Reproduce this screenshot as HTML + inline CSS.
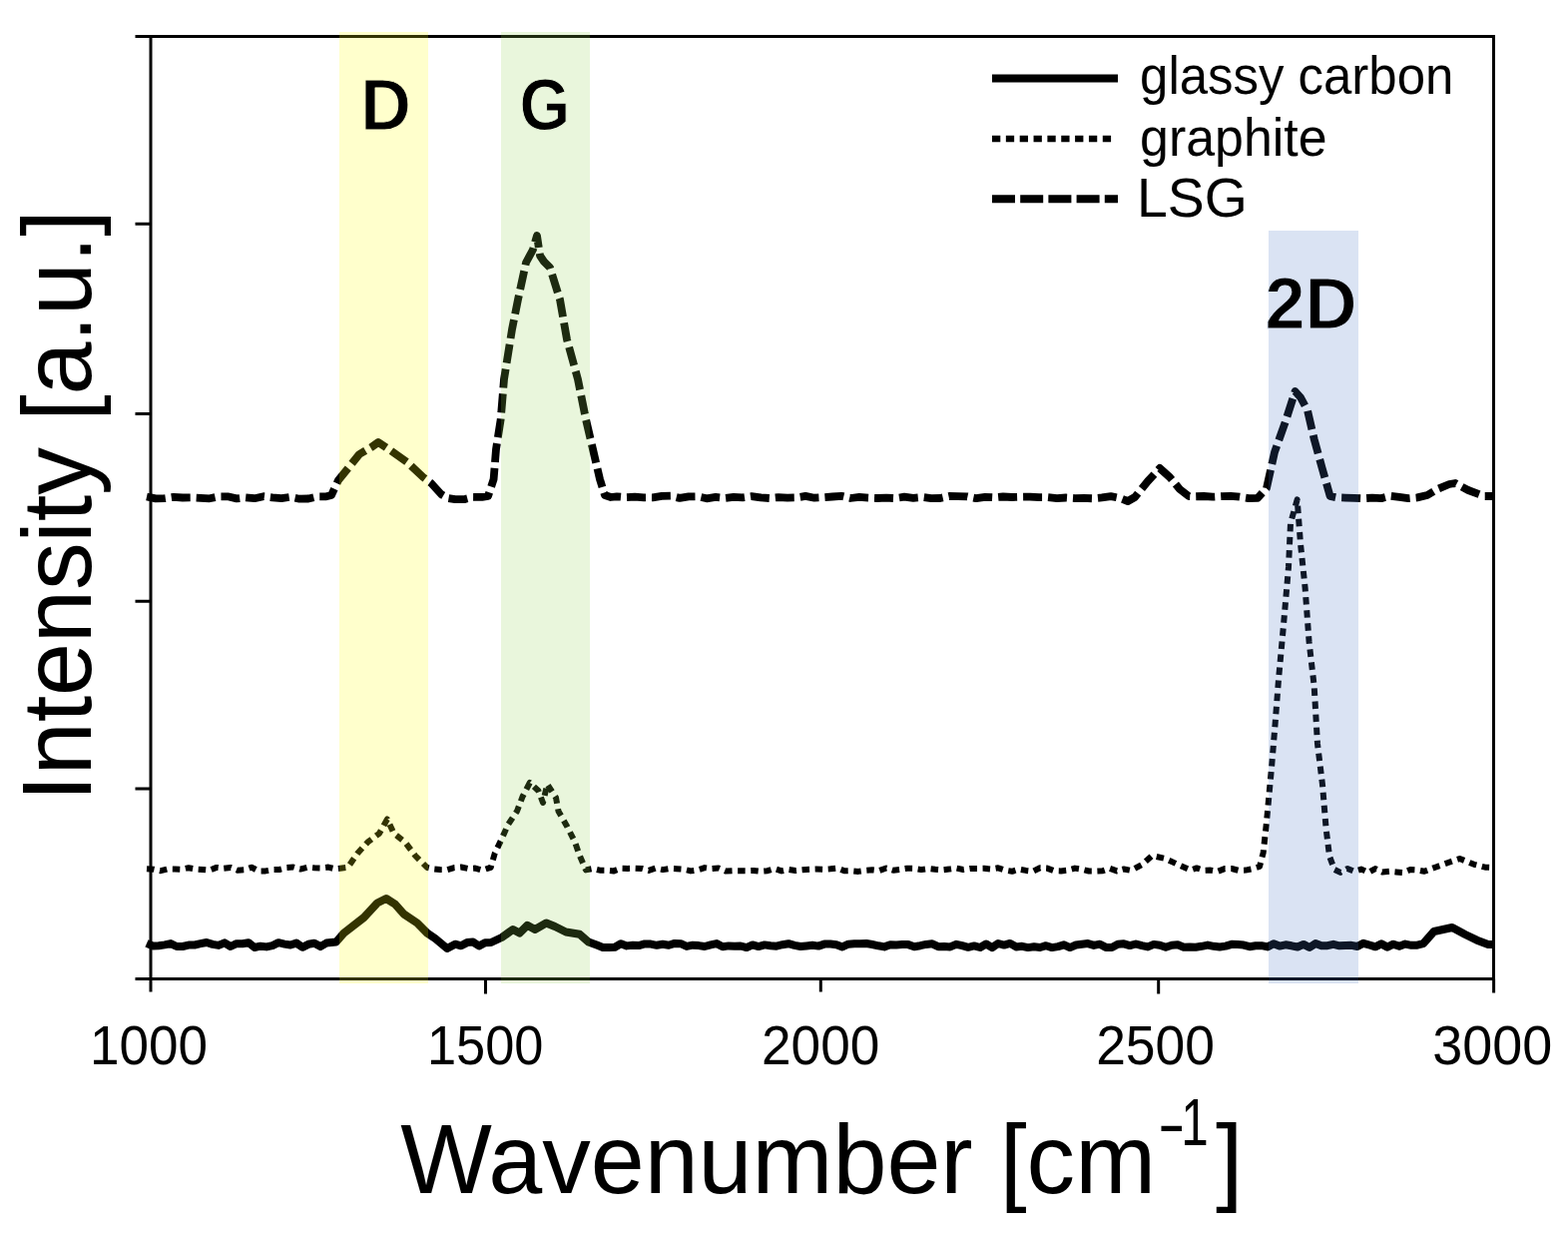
<!DOCTYPE html>
<html><head><meta charset="utf-8"><style>
html,body{margin:0;padding:0;background:#fff;}
body{width:1571px;height:1236px;overflow:hidden;}
svg{display:block;}
text{font-family:"Liberation Sans",Arial,sans-serif;fill:#000;}
</style></head><body>
<svg width="1571" height="1236" viewBox="0 0 1571 1236">
<rect x="0" y="0" width="1571" height="1236" fill="#fff"/>
<g fill="none" stroke="#000" stroke-linejoin="round">
<polyline points="147.0,944.8 153.0,947.4 159.0,947.2 165.0,946.4 171.0,945.1 177.0,948.0 183.0,948.0 189.0,946.6 195.0,946.5 201.0,945.2 207.0,944.0 213.0,945.9 219.0,946.9 225.0,944.3 231.0,948.0 237.0,945.2 243.0,945.2 249.0,944.2 255.0,949.0 261.0,947.7 267.0,948.4 273.0,947.1 279.0,944.2 285.0,945.6 291.0,946.5 297.0,944.6 303.0,948.8 309.0,945.8 315.0,944.8 321.0,948.1 327.0,944.6 336.8,943.5 344.5,934.6 364.6,919.0 378.0,904.5 386.9,900.0 395.8,905.6 404.7,915.6 418.0,924.5 428.0,934.6 436.0,940.0 448.0,950.0 456.0,945.7 462.0,947.3 468.0,944.1 474.0,943.6 480.0,947.5 486.0,944.2 492.0,944.0 502.7,939.0 513.9,931.0 520.5,934.6 528.3,926.8 536.0,931.0 547.3,924.5 556.0,928.0 567.0,933.5 580.7,935.7 589.6,943.5 598.5,946.8 604.0,948.9 610.0,949.0 616.0,948.7 622.0,945.2 628.0,947.4 634.0,946.7 640.0,947.1 646.0,945.4 652.0,945.6 658.0,946.8 664.0,945.8 670.0,946.8 676.0,944.9 682.0,945.2 688.0,947.9 694.0,946.7 700.0,947.1 706.0,948.0 712.0,946.4 718.0,945.1 724.0,948.2 730.0,947.4 736.0,947.7 742.0,947.5 748.0,949.1 754.0,946.4 760.0,948.1 766.0,946.4 772.0,947.3 778.0,947.7 784.0,946.2 790.0,945.2 796.0,946.9 802.0,948.0 808.0,947.4 814.0,946.8 820.0,947.6 826.0,945.6 832.0,945.6 838.0,946.2 844.0,948.4 850.0,945.7 856.0,945.3 862.0,945.2 868.0,945.0 874.0,946.0 880.0,947.3 886.0,948.4 892.0,946.3 898.0,946.4 904.0,946.1 910.0,946.1 916.0,948.2 922.0,947.2 928.0,945.9 934.0,945.3 940.0,948.2 946.0,947.9 952.0,948.4 958.0,945.8 964.0,947.2 970.0,948.8 976.0,947.4 982.0,949.0 988.0,945.5 994.0,949.1 1000.0,945.0 1006.0,946.6 1012.0,944.9 1018.0,948.4 1024.0,947.8 1030.0,949.1 1036.0,948.3 1042.0,949.0 1048.0,947.2 1054.0,949.1 1060.0,948.1 1066.0,946.3 1072.0,949.1 1078.0,946.5 1084.0,945.7 1090.0,945.1 1096.0,946.9 1102.0,945.7 1108.0,948.9 1114.0,949.0 1120.0,945.8 1126.0,945.3 1132.0,947.1 1138.0,945.5 1144.0,947.2 1150.0,948.4 1156.0,945.9 1162.0,946.7 1168.0,948.8 1174.0,946.8 1180.0,946.3 1186.0,948.7 1192.0,948.4 1198.0,948.7 1204.0,947.8 1210.0,946.6 1216.0,947.8 1222.0,948.5 1228.0,947.6 1234.0,945.8 1240.0,946.1 1246.0,946.6 1252.0,948.2 1258.0,947.3 1264.0,947.2 1270.0,948.4 1276.0,945.3 1282.0,947.6 1288.0,946.3 1294.0,947.3 1300.0,948.5 1306.0,945.9 1312.0,949.0 1318.0,945.1 1324.0,947.3 1330.0,947.2 1336.0,945.8 1342.0,947.3 1348.0,946.9 1354.0,946.8 1360.0,948.0 1366.0,944.8 1372.0,946.5 1378.0,948.3 1384.0,945.4 1390.0,948.6 1396.0,945.7 1402.0,947.8 1408.0,945.6 1414.0,946.8 1420.0,946.7 1426.0,945.2 1436.7,933.0 1455.0,929.0 1468.0,936.0 1479.7,941.7 1491.0,946.0 1497.0,946.0" stroke-width="8"/>
<polyline points="147.0,870.3 154.0,870.7 161.0,872.2 168.0,870.4 175.0,870.5 182.0,870.8 189.0,869.2 196.0,870.5 203.0,871.0 210.0,871.7 217.0,868.9 224.0,869.7 231.0,868.9 238.0,871.7 245.0,871.3 252.0,868.7 259.0,872.4 266.0,872.4 273.0,871.1 280.0,871.0 287.0,869.1 294.0,868.6 301.0,870.6 308.0,868.7 315.0,869.3 322.0,869.5 329.0,868.6 336.0,870.4 348.5,868.8 358.0,855.0 368.5,843.4 380.0,834.8 388.0,820.5 394.6,834.8 405.8,843.4 416.0,857.0 428.0,869.0 434.0,870.4 441.0,871.1 448.0,871.2 455.0,869.1 462.0,868.5 469.0,870.0 476.0,869.6 483.0,871.7 491.7,868.8 495.8,854.5 502.8,840.0 509.0,826.0 518.0,812.5 523.5,798.0 530.8,784.0 539.4,792.0 544.0,804.0 548.3,785.5 557.0,799.0 559.5,812.5 568.0,827.5 576.0,843.4 580.8,857.0 587.0,871.4 594.0,870.0 601.0,871.7 608.0,871.7 615.0,872.4 622.0,869.7 629.0,869.9 636.0,869.6 643.0,869.9 650.0,871.9 657.0,869.5 664.0,871.1 671.0,869.9 678.0,870.2 685.0,870.7 692.0,872.4 699.0,871.4 706.0,869.1 713.0,870.1 720.0,869.6 727.0,872.5 734.0,872.2 741.0,872.2 748.0,872.3 755.0,872.0 762.0,872.8 769.0,872.2 776.0,870.0 783.0,872.4 790.0,870.9 797.0,872.0 804.0,871.3 811.0,870.7 818.0,870.5 825.0,870.7 832.0,870.3 839.0,869.5 846.0,872.3 853.0,872.2 860.0,872.9 867.0,871.8 874.0,871.2 881.0,872.0 888.0,869.5 895.0,871.7 902.0,870.8 909.0,869.7 916.0,869.8 923.0,871.1 930.0,870.0 937.0,870.8 944.0,871.4 951.0,870.6 958.0,869.5 965.0,871.0 972.0,869.9 979.0,869.9 986.0,869.8 993.0,870.5 1000.0,869.3 1007.0,871.6 1014.0,872.8 1021.0,870.6 1028.0,871.9 1035.0,872.7 1042.0,869.2 1049.0,869.6 1056.0,872.2 1063.0,872.4 1070.0,871.6 1077.0,869.6 1084.0,870.7 1091.0,872.5 1098.0,872.5 1105.0,872.2 1112.0,869.8 1119.0,872.4 1126.0,870.5 1133.0,871.9 1144.5,865.8 1154.5,857.0 1167.4,860.0 1180.0,865.8 1193.0,871.5 1199.0,869.4 1206.0,871.8 1213.0,871.6 1220.0,872.8 1227.0,870.1 1234.0,870.0 1241.0,871.9 1248.0,871.6 1255.0,870.2 1262.0,868.0 1265.7,854.0 1269.0,823.5 1274.0,769.0 1277.6,725.0 1281.0,680.7 1286.0,626.0 1291.0,568.0 1293.0,524.0 1299.7,500.4 1303.0,544.6 1307.6,588.8 1311.6,643.0 1316.7,687.5 1320.0,745.0 1325.0,786.0 1328.6,830.0 1332.0,857.5 1337.0,871.0 1343.0,873.9 1350.0,870.0 1357.0,872.9 1364.0,870.6 1371.0,873.9 1378.0,870.1 1385.0,873.5 1392.0,872.7 1399.0,873.4 1406.0,874.0 1413.0,871.0 1420.0,871.4 1427.0,872.8 1438.0,868.7 1451.0,864.0 1462.5,860.0 1476.8,865.8 1488.0,868.7 1497.0,869.0" stroke-width="6" stroke-dasharray="7.5 5.6"/>
<polyline points="147.0,497.5 156.0,499.4 165.0,499.2 174.0,497.9 183.0,498.5 192.0,498.4 201.0,498.9 210.0,499.3 219.0,497.4 228.0,497.3 237.0,499.4 246.0,498.3 255.0,499.2 264.0,497.2 273.0,498.4 282.0,499.1 291.0,497.8 300.0,499.7 309.0,499.5 318.0,497.3 327.0,497.3 332.0,496.0 339.0,481.0 352.0,465.0 360.0,455.0 372.0,448.0 379.0,443.0 385.0,447.0 391.0,451.0 408.0,463.0 424.0,478.0 432.0,484.0 442.0,495.0 449.0,499.0 456.0,500.2 465.0,500.2 474.0,497.8 483.0,497.9 489.0,497.0 494.6,480.0 497.0,450.0 501.7,420.0 505.0,380.0 513.0,330.0 519.0,300.0 527.0,263.0 534.0,250.0 538.0,236.0 541.0,256.0 545.0,262.0 551.0,268.0 561.0,300.0 568.0,340.0 579.0,380.0 587.0,420.0 594.0,450.0 601.0,480.0 606.0,496.0 612.0,498.0 618.0,497.3 627.0,498.1 636.0,497.7 645.0,498.3 654.0,498.3 663.0,496.9 672.0,496.7 681.0,498.9 690.0,497.4 699.0,497.3 708.0,499.3 717.0,497.9 726.0,498.9 735.0,497.9 744.0,498.4 753.0,497.1 762.0,498.4 771.0,499.0 780.0,498.1 789.0,498.6 798.0,498.4 807.0,496.9 816.0,498.7 825.0,498.2 834.0,497.5 843.0,496.8 852.0,499.0 861.0,497.9 870.0,498.6 879.0,499.0 888.0,498.6 897.0,499.1 906.0,497.7 915.0,498.8 924.0,497.9 933.0,499.1 942.0,499.0 951.0,497.0 960.0,497.1 969.0,497.3 978.0,499.2 987.0,497.8 996.0,498.3 1005.0,497.5 1014.0,498.0 1023.0,497.7 1032.0,497.6 1041.0,498.2 1050.0,498.2 1059.0,499.1 1068.0,498.5 1077.0,499.1 1086.0,498.9 1095.0,499.3 1104.0,498.4 1113.0,497.1 1122.0,498.9 1130.0,502.0 1137.0,498.0 1150.0,482.0 1162.0,469.0 1172.0,478.0 1182.0,490.0 1191.0,497.0 1197.0,497.3 1206.0,497.0 1215.0,497.7 1224.0,497.1 1233.0,496.9 1242.0,497.7 1251.0,499.1 1260.0,498.8 1269.0,489.0 1277.0,453.0 1288.0,422.0 1297.6,392.0 1303.0,398.0 1310.0,411.0 1316.7,440.0 1324.6,468.7 1332.6,497.0 1339.0,498.3 1348.0,498.6 1357.0,498.8 1366.0,499.2 1375.0,498.6 1384.0,499.1 1393.0,496.8 1402.0,497.9 1411.0,499.2 1420.0,498.4 1430.0,496.0 1440.0,490.0 1452.0,485.0 1458.0,484.0 1471.0,491.0 1487.0,497.0 1497.0,497.0" stroke-width="7.8" stroke-dasharray="19 6"/>
</g>
<g stroke="#000" stroke-width="3" fill="none">
<rect x="151" y="36.5" width="1345.5" height="944"/>
<path d="M135.5 36.5H151M135.5 224.2H151M135.5 414.6H151M135.5 602.3H151M135.5 789.9H151M135.5 980.5H151"/>
<path d="M151 980.5V993.5M486.5 980.5V995.5M822.3 980.5V993.5M1160.7 980.5V995.5M1496.6 980.5V994.5"/>
</g>
<g stroke="#000" fill="none">
<path d="M994 78.5H1120" stroke-width="8"/>
<path d="M994 139H1117" stroke-width="6.5" stroke-dasharray="8.3 5.55"/>
<path d="M994 199.3H1120" stroke-width="8" stroke-dasharray="23 5.2"/>
</g>
<g>
<rect x="340" y="32" width="89" height="953" fill="#ffff00" fill-opacity="0.2"/>
<rect x="502" y="32" width="89" height="953" fill="#92d050" fill-opacity="0.2"/>
<rect x="1271" y="231" width="90" height="754" fill="#4472c4" fill-opacity="0.2"/>
</g>
<g font-size="54">
<text x="1142.1" y="93.5" textLength="314.2" lengthAdjust="spacingAndGlyphs">glassy carbon</text>
<text x="1142.1" y="155.5" textLength="187.5" lengthAdjust="spacingAndGlyphs">graphite</text>
<text x="1139.1" y="216.7" font-size="56" textLength="110.7" lengthAdjust="spacingAndGlyphs">LSG</text>
</g>
<g font-size="56" text-anchor="middle">
<text x="148.9" y="1065.8" textLength="118" lengthAdjust="spacingAndGlyphs">1000</text>
<text x="486.2" y="1065.8" textLength="116.6" lengthAdjust="spacingAndGlyphs">1500</text>
<text x="822.15" y="1065.8" textLength="118.3" lengthAdjust="spacingAndGlyphs">2000</text>
<text x="1157.6" y="1065.8" textLength="118.9" lengthAdjust="spacingAndGlyphs">2500</text>
<text x="1495.3" y="1065.8" textLength="120" lengthAdjust="spacingAndGlyphs">3000</text>
</g>
<g font-size="72.5" font-weight="bold" stroke-width="1" stroke-linejoin="round">
<text x="361.2" y="130" textLength="50.6" lengthAdjust="spacingAndGlyphs" stroke="#ffffcc">D</text>
<text x="520.4" y="130" textLength="50.65" lengthAdjust="spacingAndGlyphs" stroke="#e9f6dc">G</text>
<text x="1267.5" y="329.4" textLength="92.1" lengthAdjust="spacingAndGlyphs" stroke="#dae3f3">2D</text>
</g>
<text x="401.2" y="1194.8" font-size="99" textLength="756.8" lengthAdjust="spacingAndGlyphs">Wavenumber [cm</text>
<text x="1159.8" y="1148" font-size="66" textLength="28" lengthAdjust="spacingAndGlyphs">-</text>
<text x="1183.3" y="1146.6" font-size="66" textLength="27.5" lengthAdjust="spacingAndGlyphs">1</text>
<text x="1218" y="1194.5" font-size="99">]</text>
<text transform="translate(91.3 802.7) rotate(-90)" x="0" y="0" font-size="99" textLength="592.5" lengthAdjust="spacingAndGlyphs">Intensity [a.u.]</text>
</svg>
</body></html>
